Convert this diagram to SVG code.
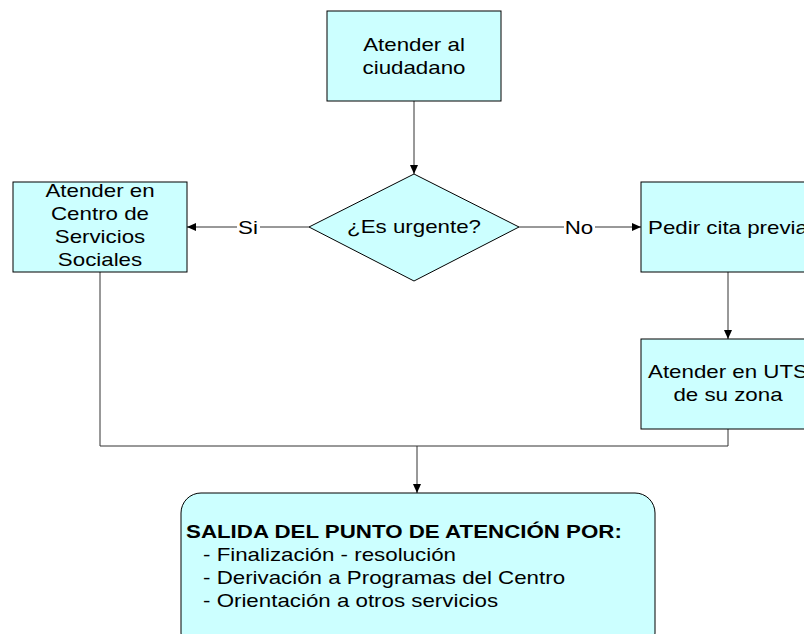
<svg xmlns="http://www.w3.org/2000/svg" width="804" height="634" viewBox="0 0 804 634">
<style>
.box{fill:#CCFFFF;stroke:#000;stroke-width:1}
.t{font-family:"Liberation Sans",Arial,sans-serif;font-size:18px;fill:#000}
.m{text-anchor:middle}
.c{stroke:#333;stroke-width:1;fill:none}
</style>
<defs>
<marker id="arr" markerWidth="10" markerHeight="10" refX="9" refY="5" orient="auto" markerUnits="userSpaceOnUse">
<path d="M0,1 L9,5 L0,9 Z" fill="#000"/>
</marker>
</defs>
<rect width="804" height="634" fill="#fff"/>
<g id="connectors">
<line class="c" x1="414" y1="101" x2="414" y2="174" marker-end="url(#arr)"/>
<line class="c" x1="309" y1="227" x2="187" y2="227" marker-end="url(#arr)"/>
<line class="c" x1="519" y1="227" x2="641" y2="227" marker-end="url(#arr)"/>
<line class="c" x1="728" y1="272" x2="728" y2="339" marker-end="url(#arr)"/>
<polyline class="c" points="100,272 100,446 728,446 728,429"/>
<line class="c" x1="417" y1="446" x2="417" y2="493" marker-end="url(#arr)"/>
<rect x="237" y="217" width="23" height="20" fill="#fff"/>
<text class="t m" transform="translate(248,234) scale(1.24,1)">Si</text>
<rect x="564" y="217" width="31" height="20" fill="#fff"/>
<text class="t m" transform="translate(579,234) scale(1.24,1)">No</text>
</g>
<g id="n1">
<rect class="box" x="327" y="11" width="174" height="90"/>
<text class="t m" transform="translate(414,51) scale(1.24,1)">Atender al</text>
<text class="t m" transform="translate(414,74) scale(1.24,1)">ciudadano</text>
</g>
<g id="n2">
<polygon class="box" points="414,174 519,227 414,281 309,227"/>
<text class="t m" transform="translate(414,233) scale(1.24,1)">¿Es urgente?</text>
</g>
<g id="n3">
<rect class="box" x="13" y="182" width="174" height="90"/>
<text class="t m" transform="translate(100,197) scale(1.24,1)">Atender en</text>
<text class="t m" transform="translate(100,220) scale(1.24,1)">Centro de</text>
<text class="t m" transform="translate(100,243) scale(1.24,1)">Servicios</text>
<text class="t m" transform="translate(100,266) scale(1.24,1)">Sociales</text>
</g>
<g id="n4">
<rect class="box" x="641" y="182" width="174" height="90"/>
<text class="t" transform="translate(648,234) scale(1.24,1)">Pedir cita previa</text>
</g>
<g id="n5">
<rect class="box" x="641" y="339" width="174" height="90"/>
<text class="t m" transform="translate(728,378) scale(1.24,1)">Atender en UTS</text>
<text class="t m" transform="translate(728,401) scale(1.24,1)">de su zona</text>
</g>
<g id="n6">
<rect class="box" x="181" y="493" width="474" height="160" rx="20" ry="20"/>
<text class="t" font-weight="bold" transform="translate(186,538) scale(1.24,1)">SALIDA DEL PUNTO DE ATENCIÓN POR:</text>
<text class="t" transform="translate(203,561) scale(1.24,1)">- Finalización - resolución</text>
<text class="t" transform="translate(203,584) scale(1.24,1)">- Derivación a Programas del Centro</text>
<text class="t" transform="translate(203,607) scale(1.24,1)">- Orientación a otros servicios</text>
</g>
</svg>
